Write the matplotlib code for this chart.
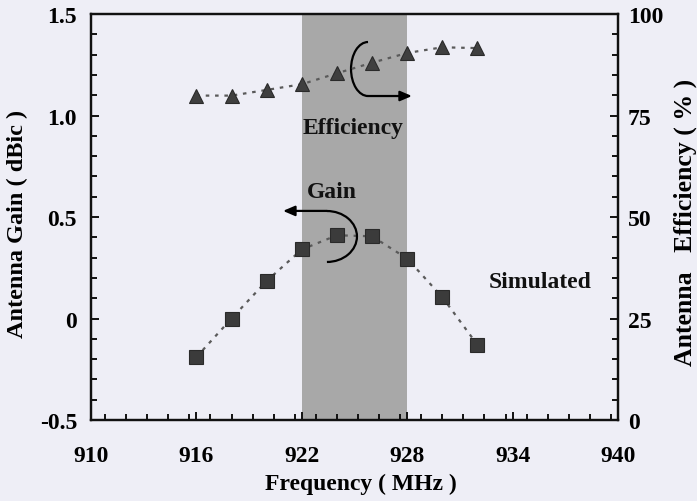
import matplotlib
matplotlib.use("Agg")
import matplotlib.pyplot as plt
from matplotlib.patches import Arc
from matplotlib.ticker import MultipleLocator, FixedLocator, FixedFormatter

# Measured antenna performance across the UHF RFID band
freq_mhz = [916, 918, 920, 922, 924, 926, 928, 930, 932]
gain_dbic = [-0.19, 0.0, 0.185, 0.34, 0.41, 0.405, 0.295, 0.105, -0.13]
efficiency_pct = [79.9, 79.9, 81.3, 82.7, 85.4, 88.0, 90.4, 91.8, 91.6]

band_mhz = (922, 928)

x_ticks = [910, 916, 922, 928, 934, 940]
gain_ticks = [-0.5, 0, 0.5, 1.0, 1.5]
gain_tick_labels = ["-0.5", "0", "0.5", "1.0", "1.5"]
eff_ticks = [0, 25, 50, 75, 100]
eff_tick_labels = ["0", "25", "50", "75", "100"]

BG = "#eeeef6"
FONT = "Liberation Serif"
FS = 17

plt.rcParams["font.family"] = [FONT, "DejaVu Serif"]
plt.rcParams["font.weight"] = "bold"

fig = plt.figure(figsize=(6.97, 5.02), dpi=100, facecolor=BG)
ax = fig.add_axes([91 / 697, 1 - 421 / 502, 527 / 697, 406 / 502])
ax.set_facecolor(BG)
ax2 = ax.twinx()

# operating band
ax.axvspan(*band_mhz, color="#a8a8a8", lw=0, zorder=0)

line_kw = dict(color="#5a5a5a", lw=1.6, ls=(0, (1.6, 2.6)))
ax.plot(freq_mhz, gain_dbic, marker="s", ms=10, mfc="#3b3b3b",
        mec="#2a2a2a", mew=0.8, zorder=3, **line_kw)
ax2.plot(freq_mhz, efficiency_pct, marker="^", ms=10, mfc="#3f3f3f",
         mec="#2a2a2a", mew=0.8, zorder=3, **line_kw)

ax.set_xlim(910, 940)
ax.set_ylim(-0.5, 1.5)
ax2.set_ylim(0, 100)

ax.xaxis.set_major_locator(FixedLocator(x_ticks))
ax.xaxis.set_minor_locator(MultipleLocator(1.2))
ax.yaxis.set_major_locator(FixedLocator(gain_ticks))
ax.yaxis.set_major_formatter(FixedFormatter(gain_tick_labels))
ax.yaxis.set_minor_locator(MultipleLocator(0.1))
ax2.yaxis.set_major_locator(FixedLocator(eff_ticks))
ax2.yaxis.set_major_formatter(FixedFormatter(eff_tick_labels))
ax2.yaxis.set_minor_locator(MultipleLocator(5))

for a in (ax, ax2):
    for s in a.spines.values():
        s.set_linewidth(1.6)
        s.set_color("#111111")

ax.tick_params(axis="x", which="both", direction="in", top=False,
               labelsize=FS, pad=18, width=1.4, color="#111111")
ax.tick_params(axis="x", which="major", length=6)
ax.tick_params(axis="x", which="minor", length=4)
ax.tick_params(axis="y", which="both", direction="in", right=False,
               labelsize=FS, pad=10, width=1.4, color="#111111")
ax.tick_params(axis="y", which="major", length=6)
ax.tick_params(axis="y", which="minor", length=4)
ax2.tick_params(axis="y", which="both", direction="in", left=False,
                labelsize=FS, pad=7, width=1.4, color="#111111")
ax2.tick_params(axis="y", which="major", length=6)
ax2.tick_params(axis="y", which="minor", length=4)

for lab in ax.get_xticklabels() + ax.get_yticklabels() + ax2.get_yticklabels():
    lab.set_fontweight("bold")

ax.set_xlabel("Frequency ( MHz )", fontsize=FS, fontweight="bold", va="center")
ax.xaxis.set_label_coords(0.512, -0.155)
ax.set_ylabel("Antenna Gain ( dBic )", fontsize=17.5, fontweight="bold", va="center")
ax.yaxis.set_label_coords(-0.14, 0.485)
ax2.set_ylabel("Antenna   Efficiency ( % )", fontsize=18.5, fontweight="bold",
               va="center", rotation=90)
ax2.yaxis.set_label_coords(1.127, 0.488)

# curved pointers linking each series to its axis
arc_kw = dict(color="black", lw=1.6, zorder=4)
ax.add_patch(Arc((923.43, 0.404), 3.42, 0.251, theta1=-90, theta2=90, **arc_kw))
ax.annotate("", xy=(920.93, 0.530), xytext=(923.43, 0.530),
            arrowprops=dict(arrowstyle="-|>,head_length=0.7,head_width=0.3",
                            color="black", lw=1.6, shrinkA=0, shrinkB=0),
            zorder=4)
ax.add_patch(Arc((925.77, 1.229), 1.935, 0.266, theta1=90, theta2=270, **arc_kw))
ax.annotate("", xy=(928.27, 1.096), xytext=(925.77, 1.096),
            arrowprops=dict(arrowstyle="-|>,head_length=0.7,head_width=0.3",
                            color="black", lw=1.6, shrinkA=0, shrinkB=0),
            zorder=4)

txt_kw = dict(fontsize=FS, fontweight="bold", ha="center", va="center", color="#111111")
ax.text(924.91, 0.943, "Efficiency", **txt_kw)
ax.text(923.72, 0.628, "Gain", **txt_kw)
ax.text(935.56, 0.18, "Simulated", **txt_kw)

fig.savefig("out.png", dpi=100, facecolor=BG)
